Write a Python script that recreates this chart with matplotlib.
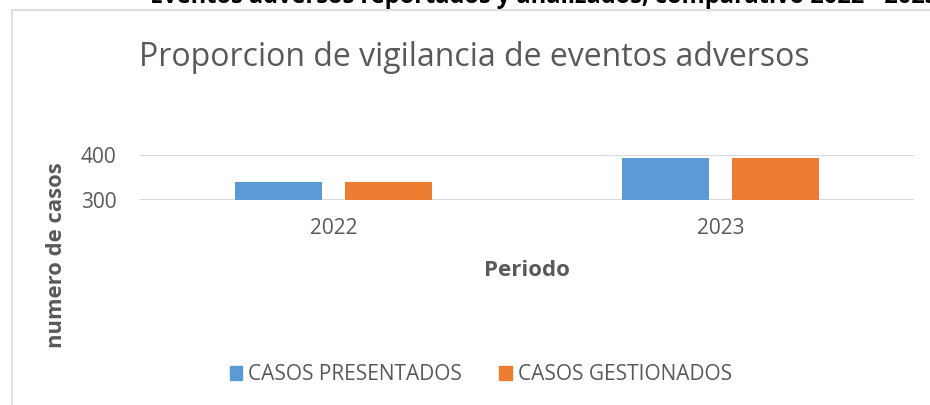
import numpy as np
import matplotlib
matplotlib.use("Agg")
import matplotlib.pyplot as plt
from matplotlib.patches import Rectangle, Patch

# Data
periodos = ["2022", "2023"]
casos_presentados = [341, 394]
casos_gestionados = [341, 394]
series_names = ["CASOS PRESENTADOS", "CASOS GESTIONADOS"]
y_ticks = [300, 400]

blue = "#5B9BD5"
orange = "#ED7D31"
grey_text = "#595959"
grid_col = "#D9D9D9"

plt.rcParams["font.family"] = ["Open Sans", "DejaVu Sans"]

fig = plt.figure(figsize=(9.3, 4.05), dpi=100)

# chart frame (the bottom and right run off the picture)
fig.patches.append(Rectangle((12 / 930, -0.05), 1.0, 1 - 10 / 405 + 0.05,
                             transform=fig.transFigure, fill=False,
                             edgecolor=grid_col, linewidth=1.2))

# line of text above the chart, mostly cut off in the picture
fig.text(150 / 930, 1 - 3 / 405, "Eventos adversos reportados y analizados, comparativo 2022 - 2023",
         ha="left", va="baseline", fontsize=17, fontweight="bold", color="black")

ax = fig.add_axes([140 / 930, 1 - 200 / 405, 774 / 930, 45 / 405])

x = np.arange(len(periodos))
w = 0.225
off = 0.142
ax.bar(x - off, casos_presentados, w, color=blue, label=series_names[0], zorder=3)
ax.bar(x + off, casos_gestionados, w, color=orange, label=series_names[1], zorder=3)

ax.set_xlim(-0.5, 1.5)
ax.set_ylim(300, 400)
ax.set_yticks(y_ticks)
ax.set_xticks(x)
ax.set_xticklabels(periodos)
ax.yaxis.grid(True, color=grid_col, linewidth=1.5, zorder=0)
ax.set_axisbelow(True)
for s in ax.spines.values():
    s.set_visible(False)
ax.tick_params(axis="both", length=0, labelsize=15, labelcolor=grey_text)
ax.tick_params(axis="x", pad=13)
ax.tick_params(axis="y", pad=17)

fig.text(474 / 930, 1 - 57 / 405, "Proporcion de vigilancia de eventos adversos",
         ha="center", va="center", fontsize=23, color=grey_text)
fig.text(527 / 930, 1 - 270 / 405, "Periodo", ha="center", va="center",
         fontsize=16, fontweight="bold", color=grey_text)
fig.text(57 / 930, 1 - 255 / 405, "numero de casos", ha="center", va="center",
         rotation=90, fontsize=15.8, fontweight="bold", color=grey_text)

handles = [Patch(color=blue), Patch(color=orange)]
fig.legend(handles, series_names, loc="center", bbox_to_anchor=(481 / 930, 1 - 375 / 405),
           ncol=2, frameon=False, fontsize=15, labelcolor=grey_text,
           handlelength=0.62, handleheight=0.62, handletextpad=0.29, columnspacing=1.78)

fig.savefig("out.png", dpi=100)
